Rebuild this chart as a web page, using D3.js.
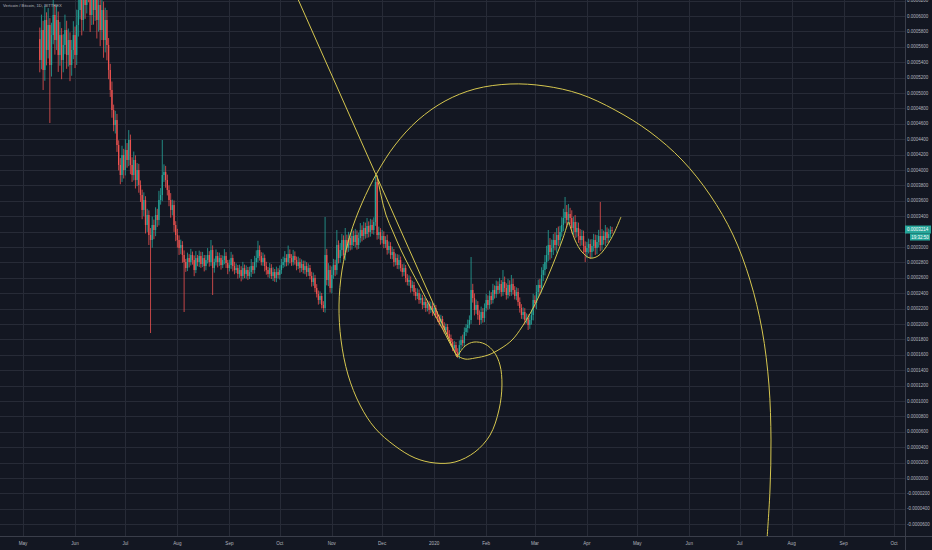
<!DOCTYPE html>
<html><head><meta charset="utf-8">
<script src="https://cdn.jsdelivr.net/npm/d3@7"></script>
<style>html,body{margin:0;padding:0;background:#131722;overflow:hidden}svg{display:block}</style>
</head><body>
<svg id="c" width="932" height="550"></svg>
<script>
// ---------- DATA (prices in units of 1e-7 BTC) ----------
const UNIT = 1e-7;
const title = "Vertcoin / Bitcoin, 1D, BITTREX";
const candleStart = "2019-05-11";
const firstOpen = 5700;
const closes = [
5429,5818,5299,5948,5559,5883,5364,5753,6013,5688,
5948,5494,5753,5429,5624,5818,5494,5688,5364,5559,
5753,5494,5883,6078,6338,5948,6468,6143,6598,6338,
6013,6468,6078,6273,5948,6143,5818,6078,5688,5948,
5624,5299,5039,4779,4584,4649,4325,4065,3935,4195,
4000,4260,4130,4390,4065,3935,4130,3870,4000,3805,
3675,3481,3610,3286,3416,3156,3091,3286,3221,3416,
3351,3610,3675,3935,3974,3870,3740,3610,3481,3545,
3286,3156,3091,2987,3026,2896,2805,2727,2857,2805,
2896,2831,2701,2857,2805,2883,2779,2857,2753,2831,
2896,2805,2961,2727,2805,2883,2805,2857,2766,2831,
2883,2792,2727,2766,2857,2753,2701,2727,2650,2701,
2624,2727,2650,2701,2624,2675,2753,2701,2805,2857,
2961,2883,2805,2857,2753,2701,2650,2727,2624,2675,
2598,2675,2637,2701,2766,2805,2857,2805,2909,2857,
2805,2883,2831,2753,2805,2727,2779,2701,2753,2675,
2727,2624,2546,2598,2468,2390,2312,2364,2247,2208,
2896,2572,2701,2468,2637,2766,2701,3026,2857,2961,
3091,2896,3091,2987,3117,3026,3143,3065,3156,3026,
3117,3221,3143,3247,3169,3273,3195,3286,3221,3325,
3844,3156,3195,3091,3143,3039,3091,2961,3013,2896,
2935,2805,2857,2766,2831,2727,2675,2727,2598,2546,
2572,2468,2507,2416,2364,2403,2312,2338,2247,2286,
2208,2260,2182,2234,2156,2208,2117,2078,2026,2065,
1974,1922,1961,1870,1818,1766,1688,1727,1636,1597,
1727,1792,1753,1896,1948,1987,2052,2442,2338,2182,
2247,2117,2052,2156,2078,2208,2312,2247,2364,2312,
2442,2390,2494,2442,2520,2416,2546,2468,2377,2507,
2416,2520,2442,2364,2416,2286,2208,2117,2156,2052,
2078,1987,2052,2117,2312,2273,2416,2507,2468,2637,
2701,2805,2896,3026,2935,2987,3091,3026,3156,3091,
3195,3286,3377,3455,3351,3429,3377,3247,3325,3195,
3247,3143,3091,3143,3013,2935,2987,3039,2935,3013,
3091,2987,3065,3143,3026,3143,3091,3195,3117,3169,
3221,3214];
const upperWicks = [
150,200,120,180,100,220,90,160,210,130,
190,110,170,90,140,200,120,150,100,130,
180,110,200,240,260,150,220,180,260,200,
170,230,150,210,140,190,120,180,110,160,
130,90,80,110,70,120,80,60,90,120,
80,140,90,129,70,100,110,60,90,80,
60,70,100,50,80,60,90,110,70,100,
80,120,90,455,100,80,70,60,90,70,
60,50,80,60,70,50,60,40,70,50,
80,45,60,90,40,70,55,80,40,65,
90,50,130,60,45,85,50,70,40,60,
90,50,40,70,80,45,55,60,40,70,
50,80,45,60,40,70,90,50,80,100,
120,60,50,70,45,55,40,65,50,60,
40,70,50,60,80,70,90,50,110,60,
50,80,60,45,70,50,60,45,70,50,
60,40,55,70,40,50,45,60,40,50,
494,80,90,60,110,80,70,195,60,90,
80,60,156,70,80,60,90,70,80,60,
70,90,60,80,70,104,60,80,70,60,
91,52,70,50,80,60,50,70,60,50,
70,40,60,50,70,45,50,60,40,50,
60,45,55,40,50,60,45,55,40,60,
45,50,40,55,45,60,40,50,45,55,
40,50,45,40,50,45,40,55,40,50,
60,50,70,60,50,70,60,428,80,60,
70,50,60,70,50,60,80,60,70,50,
80,60,70,60,80,50,155,70,60,80,
60,117,70,50,60,50,60,50,60,50,
60,50,60,70,80,60,90,70,80,100,
80,90,120,195,90,110,80,100,90,110,
80,100,120,195,90,130,80,100,70,90,
80,70,90,80,70,60,80,70,60,90,
80,70,90,80,442,90,70,91,60,70,
50,40];
const lowerWicks = [
160,120,260,140,200,110,754,150,120,190,
130,220,140,250,160,120,180,150,210,140,
120,170,130,150,120,200,140,180,110,160,
220,130,190,140,240,150,210,130,230,160,
200,120,90,100,80,110,90,70,120,90,
110,70,100,80,120,90,70,110,80,100,
90,120,80,110,90,130,1208,100,120,80,
90,70,60,80,90,100,70,80,100,70,
90,80,100,90,80,100,649,50,40,70,
45,60,80,40,55,65,50,40,70,55,
45,60,50,350,60,45,70,50,60,40,
55,65,80,45,50,70,55,40,60,50,
70,45,55,60,50,40,65,50,45,70,
55,60,45,50,70,60,45,55,40,65,
50,55,45,60,50,40,60,55,45,70,
50,45,60,55,40,60,50,45,55,60,
50,45,60,50,55,45,60,50,45,52,
60,70,80,60,70,50,80,60,70,60,
80,50,70,60,50,70,60,50,70,60,
50,60,70,50,60,50,70,60,50,60,
50,60,50,60,45,55,50,60,45,50,
55,60,45,50,55,45,60,50,55,45,
50,60,45,50,55,40,50,45,55,40,
50,45,55,40,50,45,40,50,45,55,
40,45,50,40,45,50,40,45,50,39,
50,60,45,55,50,60,45,50,60,70,
50,60,65,50,60,55,45,60,50,55,
45,60,50,55,45,60,50,55,60,45,
55,50,60,45,55,50,60,50,55,60,
45,65,50,60,70,60,80,70,90,60,
80,70,90,80,100,80,90,70,100,80,
70,60,80,70,90,60,80,70,90,80,
70,90,80,70,90,130,80,70,90,80,
70,90,80,70,80,70,60,80,70,60,
50,40];

// axis ticks
const yTickLabels = ["-0.0000600","-0.0000400","-0.0000200","0.0000000","0.0000200","0.0000400","0.0000600","0.0000800",
"0.0001000","0.0001200","0.0001400","0.0001600","0.0001800","0.0002000","0.0002200","0.0002400","0.0002600","0.0002800",
"0.0003000","0.0003200","0.0003400","0.0003600","0.0003800","0.0004000","0.0004200","0.0004400","0.0004600","0.0004800",
"0.0005000","0.0005200","0.0005400","0.0005600","0.0005800","0.0006000","0.0006200"];
const xTickDates = ["2019-05-01","2019-06-01","2019-07-01","2019-08-01","2019-09-01","2019-10-01","2019-11-01","2019-12-01",
"2020-01-01","2020-02-01","2020-03-01","2020-04-01","2020-05-01","2020-06-01","2020-07-01","2020-08-01","2020-09-01","2020-10-01"];
const xTickLabels = ["May","Jun","Jul","Aug","Sep","Oct","Nov","Dec","2020","Feb","Mar","Apr","May","Jun","Jul","Aug","Sep","Oct"];

// drawings: [days since 2019-05-01, price in 1e-7]
const drawBase = "2019-05-01";
const spiral = [[258.6,1571],[263.4,1714],[268.7,1766],[275.3,1740],[280.7,1636],[284.2,1468],[285.4,1208],[283.6,883],
[278.3,558],[269.3,338],[257.4,208],[245.5,195],[233.6,260],[221.7,416],[209.7,649],[200.8,948],[193.7,1338],[189.5,1792],
[188.3,2247],[190.1,2701],[194.9,3156],[202.0,3571],[210.9,3961],[221.7,4325],[235.4,4649],[251.5,4896],[269.3,5052],
[290.2,5117],[311.0,5091],[331.9,4987],[352.8,4779],[373.6,4494],[392.7,4130],[409.4,3675],[423.1,3156],[433.2,2571],
[440.4,1922],[444.5,1208],[445.7,494],[445.1,-156],[443.3,-805]];
const ray = [[160.9,6364],[258.6,1571]];
const arcCurve = [[210.9,3935],[213.3,3675],[216.3,3416],[220.5,3195],[225.2,2961],[230.6,2727],[236.6,2481],[243.1,2208],
[249.7,1948],[255.0,1727],[258.6,1597],[263.4,1545],[269.3,1558],[277.1,1597],[284.2,1675],[291.4,1792],[297.3,1961],
[302.7,2156],[308.1,2390],[313.4,2649],[318.2,2909],[321.8,3117],[324.8,3325]];
const cup = [[325.3,3325],[328.9,3091],[333.1,2935],[337.9,2857],[342.6,2883],[347.4,3000],[352.2,3182],[356.3,3390]];
const countdown = "19:32:50";

// ---------- LAYOUT ----------
const W = 932, H = 550, plotR = 905, plotB = 536;
const colors = {bg:"#131722", grid:"#272b37", sep:"#3a3e4a", text:"#b2b5be", up:"#26a69a", down:"#ef5350", draw:"#d6c74f"};
const DAY = 86400000;
const parse = s => new Date(s + "T00:00:00Z");

const x = d3.scaleUtc().domain([parse("2019-05-01"), parse("2020-10-01")]).range([23, 894]);
const y = d3.scaleLinear().domain([-0.0000753, 0.0006208]).range([plotB, 0]);

const svg = d3.select("#c");
svg.append("rect").attr("width", W).attr("height", H).attr("fill", colors.bg);

svg.append("defs").append("clipPath").attr("id", "plot")
  .append("rect").attr("x", 0).attr("y", 0).attr("width", plotR).attr("height", plotB);

// grid
const yTicks = yTickLabels.map(Number);
const grid = svg.append("g");
grid.selectAll("line.h").data(yTicks).join("line")
  .attr("x1", 0).attr("x2", plotR).attr("y1", d => Math.round(y(d)) + 0.5).attr("y2", d => Math.round(y(d)) + 0.5)
  .attr("stroke", colors.grid).attr("stroke-width", 1);
const xTicks = xTickDates.map(parse);
grid.selectAll("line.v").data(xTicks).join("line")
  .attr("y1", 0).attr("y2", plotB).attr("x1", d => Math.round(x(d)) + 0.5).attr("x2", d => Math.round(x(d)) + 0.5)
  .attr("stroke", colors.grid).attr("stroke-width", 1);

// candles
const start = parse(candleStart);
const candles = closes.map((c, i) => {
  const o = i === 0 ? firstOpen : closes[i - 1];
  return {date: new Date(+start + i * DAY), o, c, h: Math.max(o, c) + upperWicks[i], l: Math.min(o, c) - lowerWicks[i]};
});
const plot = svg.append("g").attr("clip-path", "url(#plot)");
const cg = plot.append("g");
cg.selectAll("line").data(candles).join("line")
  .attr("x1", d => x(d.date)).attr("x2", d => x(d.date))
  .attr("y1", d => y(d.h * UNIT)).attr("y2", d => y(d.l * UNIT))
  .attr("stroke", d => d.c >= d.o ? colors.up : colors.down).attr("stroke-width", 0.8);
cg.selectAll("rect").data(candles).join("rect")
  .attr("x", d => x(d.date) - 0.65).attr("width", 1.3)
  .attr("y", d => y(Math.max(d.o, d.c) * UNIT))
  .attr("height", d => Math.max(0.8, Math.abs(y(d.o * UNIT) - y(d.c * UNIT))))
  .attr("fill", d => d.c >= d.o ? colors.up : colors.down);

// drawings
const base = parse(drawBase);
const line = d3.line()
  .x(p => x(new Date(+base + p[0] * DAY)))
  .y(p => y(p[1] * UNIT))
  .curve(d3.curveCatmullRom.alpha(0.5));
const straight = d3.line().x(p => x(new Date(+base + p[0] * DAY))).y(p => y(p[1] * UNIT));
const dg = plot.append("g").attr("fill", "none").attr("stroke", colors.draw).attr("stroke-width", 1);
dg.append("path").attr("d", line(spiral));
dg.append("path").attr("d", straight(ray));
dg.append("path").attr("d", line(arcCurve));
dg.append("path").attr("d", line(cup));

// separators
svg.append("line").attr("x1", plotR + 0.5).attr("x2", plotR + 0.5).attr("y1", 0).attr("y2", H).attr("stroke", colors.sep);
svg.append("line").attr("x1", 0).attr("x2", W).attr("y1", plotB + 0.5).attr("y2", plotB + 0.5).attr("stroke", colors.sep);

// last price
const last = closes[closes.length - 1] * UNIT;
const ly = y(last);

// y axis labels (the one under the last-price tag is hidden, as in the reference)
const font = "'Liberation Sans', Arial, sans-serif";
svg.append("g").selectAll("text").data(yTickLabels.filter(d => Math.abs(y(+d) - ly) > 6)).join("text")
  .attr("x", 907).attr("y", d => y(+d)).attr("dy", "0.35em")
  .attr("font-family", font).attr("font-size", 4.5).attr("fill", colors.text)
  .text(d => d);

// x axis labels
svg.append("g").selectAll("text").data(xTickLabels).join("text")
  .attr("x", (d, i) => x(xTicks[i])).attr("y", 543).attr("dy", "0.35em").attr("text-anchor", "middle")
  .attr("font-family", font).attr("font-size", 4.6).attr("fill", colors.text)
  .text(d => d);

// title
svg.append("text").attr("x", 3).attr("y", 6).attr("dy", "0.35em")
  .attr("font-family", font).attr("font-size", 4.2).attr("fill", colors.text).text(title);

// last price tag
svg.append("rect").attr("x", 905).attr("y", ly - 5).attr("width", 26).attr("height", 8).attr("fill", colors.up);
svg.append("rect").attr("x", 910).attr("y", ly + 3).attr("width", 20).attr("height", 7).attr("fill", colors.up);
svg.append("text").attr("x", 907).attr("y", ly - 1).attr("dy", "0.35em")
  .attr("font-family", font).attr("font-size", 4.5).attr("fill", "#ffffff").text(last.toFixed(7));
svg.append("text").attr("x", 920).attr("y", ly + 6.5).attr("dy", "0.35em").attr("text-anchor", "middle")
  .attr("font-family", font).attr("font-size", 4.5).attr("fill", "#ffffff").text(countdown);
</script>
</body></html>
